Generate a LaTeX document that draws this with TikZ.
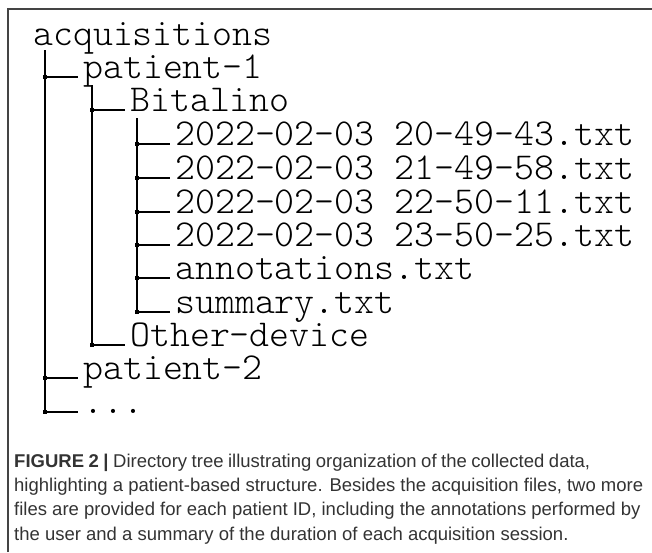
\documentclass[tikz,border=0pt]{standalone}
\usepackage{fontspec}
\setmainfont{Liberation Sans}
\newfontfamily\treefont{Latin Modern Mono Light}
\definecolor{frame}{HTML}{444444}
\definecolor{captxt}{HTML}{333333}
\tikzset{
  entry/.style={anchor=base west, inner sep=0pt, text=black, text height=24pt, text depth=6pt, font=\treefont\fontsize{38}{38}\selectfont},
  branch/.style={line width=1.4pt, black},
  junction/.style={rectangle, fill=black, inner sep=0pt, minimum size=3.5pt},
  capline/.style={anchor=base west, inner sep=0pt, text=captxt, text height=14pt, text depth=4pt, font=\fontsize{18.5}{22}\selectfont}
}
\begin{document}
\begin{tikzpicture}[x=1pt, y=-1pt]
\useasboundingbox (0,0) rectangle (652,552);
% frame (top and left only)
\draw[frame, line width=2pt] (8,552) -- (8,8.5) -- (652,8.5);
% tree entries
\node[entry] (acq) at (33,45) {acquisitions};
\node[entry] (p1)  at (83,78.5) {patient-1};
\node[entry] (bit) at (130,111.5) {Bitalino};
\node[entry] (f1)  at (175,145.5) {2022-02-03 20-49-43.txt};
\node[entry] (f2)  at (175,179.5) {2022-02-03 21-49-58.txt};
\node[entry] (f3)  at (175,213.5) {2022-02-03 22-50-11.txt};
\node[entry] (f4)  at (175,246.5) {2022-02-03 23-50-25.txt};
\node[entry] (ann) at (175,279.5) {annotations.txt};
\node[entry] (sum) at (175,313.5) {summary.txt};
\node[entry] (oth) at (130,346.5) {Other-device};
\node[entry] (p2)  at (83,379.5) {patient-2};
\node[entry] (dots) at (83,413.5) {...};
% vertical trunks
\coordinate (t0) at (45,50);
\coordinate (t1) at (92,85);
\coordinate (t2) at (137,118);
% branch ends
\foreach \n in {p1, bit, f1, f2, f3, f4, ann, sum, oth, p2, dots}{
  \coordinate (\n-end) at ([xshift=-5pt,yshift=1.5pt]\n.base west);
}
\draw[branch] (t0) |- (dots-end);
\draw[branch] (t1) |- (oth-end);
\draw[branch] (t2) |- (sum-end);
% horizontal branches with junction dots
\foreach \n/\t in {p1/t0, p2/t0, dots/t0, bit/t1, oth/t1, f1/t2, f2/t2, f3/t2, f4/t2, ann/t2, sum/t2}{
  \draw[branch] (\t |- \n-end) -- (\n-end);
  \node[junction] at (\t |- \n-end) {};
}
% caption
\node[capline] (c1) at (14,467) {\makebox[576pt][s]{\textbf{FIGURE 2 |} Directory tree illustrating organization of the collected data,}};
\node[capline] (c2) at (14,491) {highlighting a patient-based structure. Besides the acquisition files, two more};
\node[capline] (c3) at (14,515.5) {files are provided for each patient ID, including the annotations performed by};
\node[capline] (c4) at (14,540) {the user and a summary of the duration of each acquisition session.};
\end{tikzpicture}
\end{document}
